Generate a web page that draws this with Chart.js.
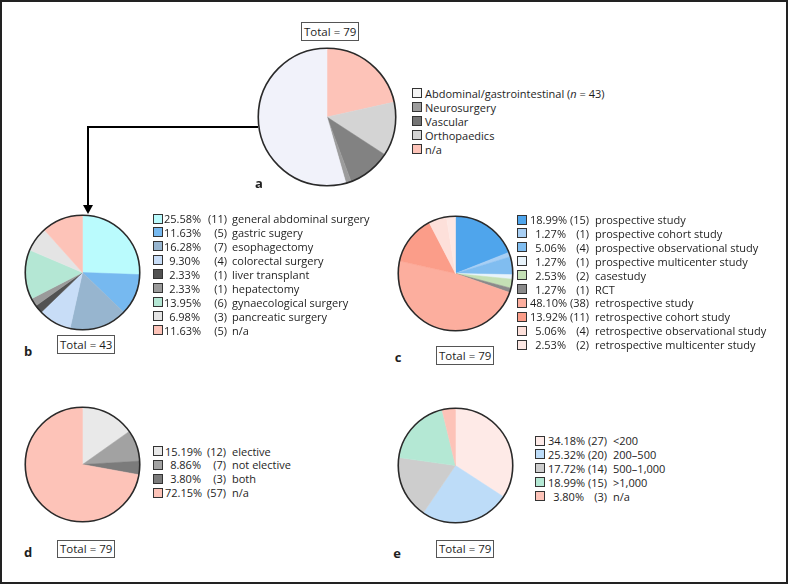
<!DOCTYPE html>
<html>
<head>
<meta charset="utf-8">
<script src="https://cdn.jsdelivr.net/npm/chart.js@4"></script>
<style>
  html, body { margin: 0; padding: 0; background: #fff; }
  #page { position: relative; width: 788px; height: 584px; overflow: hidden;
          font-family: "Open Sans", "Noto Sans", sans-serif; font-size: 11px; color: #1e1e1e; }
  #frame { position: absolute; left: 0; top: 0; width: 788px; height: 584px;
           box-sizing: border-box; border: 2px solid #222; }
  canvas { position: absolute; }
  .row { position: absolute; height: 13px; line-height: 13px; white-space: nowrap; }
  .sw { position: absolute; top: 1.5px; width: 10px; height: 10px; box-sizing: border-box; border: 1px solid #333; }
  .r { position: absolute; text-align: right; }
  .l { position: absolute; }
  .total { position: absolute; box-sizing: border-box; border: 1px solid #555; text-align: center;
           white-space: nowrap; padding: 0 2px; font-size: 11.5px; background: #fff; }
  .tag { position: absolute; font-weight: bold; font-size: 13px; transform: translate(-50%, -50%); }
</style>
</head>
<body>
<div id="page">
  <div id="frame"></div>
  <svg width="788" height="584" style="position:absolute;left:0;top:0">
    <path d="M258 127 H88 V207" fill="none" stroke="#000" stroke-width="2"/>
    <polygon points="83,205 93,205 88,214" fill="#000"/>
  </svg>
</div>
<script>
// panel a: specialty
const aLabels = ['Abdominal/gastrointestinal (<i>n</i> = 43)', 'Neurosurgery', 'Vascular', 'Orthopaedics', 'n/a'];
const aValues = [43, 1, 8, 10, 17];
const aColors = ['#f1f2fa', '#9c9c9c', '#828282', '#d4d4d4', '#fdc3b8'];
const aSwatch = ['#f4f4f4', '#9c9c9c', '#747474', '#d4d4d4', '#fdc3b8'];

// panel b: abdominal subgroups
const bLabels = ['general abdominal surgery', 'gastric sugery', 'esophagectomy', 'colorectal surgery',
  'liver transplant', 'hepatectomy', 'gynaecological surgery', 'pancreatic surgery', 'n/a'];
const bValues = [11, 5, 7, 4, 1, 1, 6, 3, 5];
const bColors = ['#bafbfd', '#76b9f0', '#97b5cf', '#c8ddf7', '#525252', '#9a9a9a', '#b4e7d4', '#e4e4e4', '#fdc3b8'];

// panel c: study design
const cLabels = ['prospective study', 'prospective cohort study', 'prospective observational study',
  'prospective multicenter study', 'casestudy', 'RCT', 'retrospective study', 'retrospective cohort study',
  'retrospective observational study', 'retrospective multicenter study'];
const cValues = [15, 1, 4, 1, 2, 1, 38, 11, 4, 2];
const cColors = ['#4fa5ec', '#a8cff4', '#80bdf0', '#e9f4fb', '#c4e0b5', '#8a8a8a', '#fcae9e', '#fb9d89', '#fde0da', '#fde8e4'];

// panel d: elective
const dLabels = ['elective', 'not elective', 'both', 'n/a'];
const dValues = [12, 7, 3, 57];
const dColors = ['#e9e9e9', '#a2a2a2', '#7b7b7b', '#fdc3b8'];

// panel e: sample size
const eLabels = ['&lt;200', '200\u2013500', '500\u20131,000', '&gt;1,000', 'n/a'];
const eValues = [27, 20, 14, 15, 3];
const eColors = ['#feeae7', '#bddcf8', '#cdcdcd', '#b4e8d4', '#fdc3b8'];

const page = document.getElementById('page');
const sum = arr => arr.reduce((s, v) => s + v, 0);

const outline = {
  id: 'outline',
  afterDatasetsDraw(chart) {
    const arc = chart.getDatasetMeta(0).data[0];
    const ctx = chart.ctx;
    ctx.save();
    ctx.beginPath();
    ctx.arc(arc.x, arc.y, arc.outerRadius, 0, Math.PI * 2);
    ctx.lineWidth = 1.6;
    ctx.strokeStyle = '#2a2a2a';
    ctx.stroke();
    ctx.restore();
  }
};

function makePie(cx, cy, r, values, colors) {
  const pad = 3;
  const size = Math.round(2 * (r + pad));
  const cv = document.createElement('canvas');
  cv.width = size; cv.height = size;
  cv.style.left = (cx - size / 2) + 'px';
  cv.style.top = (cy - size / 2) + 'px';
  page.appendChild(cv);
  new Chart(cv, {
    type: 'pie',
    data: { datasets: [{ data: values, backgroundColor: colors, borderColor: colors, borderWidth: 0.5 }] },
    options: {
      responsive: false, animation: false,
      layout: { padding: pad },
      plugins: { legend: { display: false }, tooltip: { enabled: false } }
    },
    plugins: [outline]
  });
}

function el(cls, left, top, html) {
  const d = document.createElement('div');
  d.className = cls;
  d.style.left = left + 'px';
  d.style.top = top + 'px';
  if (html !== undefined) d.innerHTML = html;
  page.appendChild(d);
  return d;
}

function legend(y0, step, sx, labels, colors, values, pctEnd, cntEnd, lx) {
  const tot = values ? sum(values) : 0;
  labels.forEach((lab, i) => {
    const row = el('row', 0, y0 + i * step - 6.5);
    const sw = document.createElement('div');
    sw.className = 'sw';
    sw.style.left = sx + 'px';
    sw.style.background = colors[i];
    row.appendChild(sw);
    const add = (cls, left, width, text) => {
      const s = document.createElement('div');
      s.className = cls;
      s.style.left = left + 'px';
      if (width) s.style.width = width + 'px';
      s.innerHTML = text;
      row.appendChild(s);
    };
    if (values) {
      add('r', pctEnd - 36, 36, (values[i] / tot * 100).toFixed(2) + '%');
      add('r', cntEnd - 21, 21, '(' + values[i] + ')');
    }
    add('l', lx, 0, lab);
  });
}

function total(left, top, h, n) {
  const d = el('total', left, top, 'Total = ' + n);
  d.style.height = h + 'px';
  d.style.lineHeight = (h - 2) + 'px';
}

// panel a (drawn counter-clockwise in the reference, so reverse)
makePie(327, 116.5, 69, aValues.slice().reverse(), aColors.slice().reverse());
total(301, 22, 19, sum(aValues));
legend(93, 14, 412, aLabels, aSwatch, null, 0, 0, 425);
el('tag', 259, 183, 'a');

makePie(82.5, 272, 57.5, bValues, bColors);
total(57, 335, 19, sum(bValues));
legend(218.5, 13.95, 153, bLabels, bColors, bValues, 200, 227, 232);
el('tag', 28, 351, 'b');

makePie(455, 273.5, 57.5, cValues, cColors);
total(436, 346, 19, sum(cValues));
legend(219.5, 13.9, 517, cLabels, cColors, cValues, 566, 589, 595);
el('tag', 398, 357, 'c');

makePie(82.5, 464.5, 57.5, dValues, dColors);
total(57, 540, 18, sum(dValues));
legend(451, 13.9, 153, dLabels, dColors, dValues, 201, 226, 232);
el('tag', 28, 552, 'd');

makePie(455.5, 465, 57.5, eValues, eColors);
total(436, 540, 18, sum(eValues));
legend(440.5, 13.9, 535, eLabels, eColors, eValues, 584, 607, 613);
el('tag', 397, 553, 'e');
</script>
</body>
</html>
